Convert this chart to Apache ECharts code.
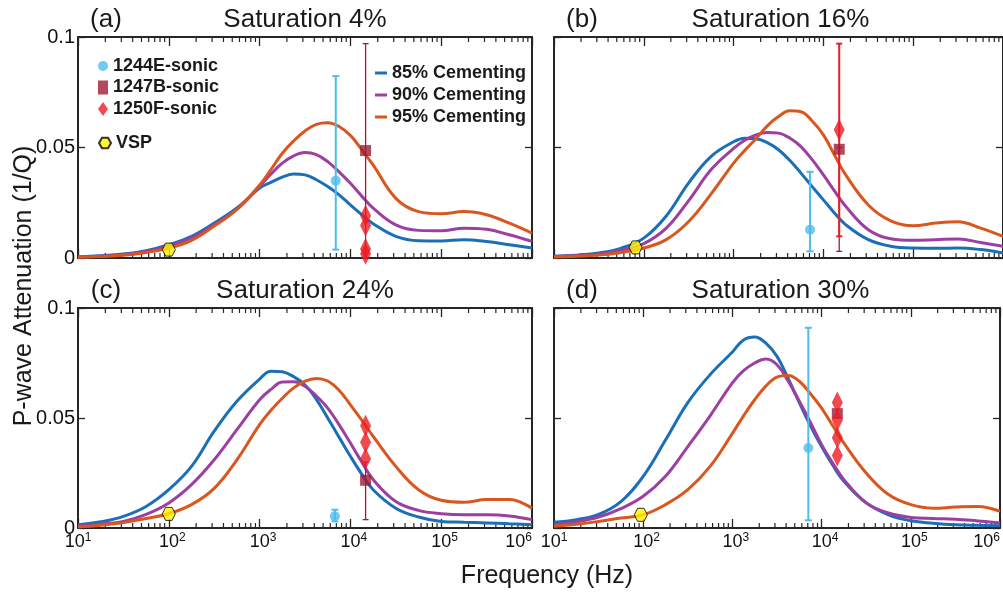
<!DOCTYPE html>
<html><head><meta charset="utf-8">
<script src="https://cdn.jsdelivr.net/npm/echarts@6/dist/echarts.min.js"></script>
<style>html,body{margin:0;padding:0;background:#fff}#c{width:1003px;height:596px}</style>
</head><body><div id="c"></div>
<script>
// ---- data ----
const LOG_F = [1, 1.25, 1.5, 1.75, 2, 2.25, 2.5, 2.75, 3, 3.125, 3.25, 3.375, 3.5, 3.625, 3.75, 3.875, 4, 4.125, 4.25, 4.5, 4.75, 5, 5.25, 5.5, 5.75, 6];
const SERIES_NAMES = ['85% Cementing', '90% Cementing', '95% Cementing'];
const PANEL_LABELS = ['(a)', '(b)', '(c)', '(d)'];
const PANEL_TITLES = ['Saturation 4%', 'Saturation 16%', 'Saturation 24%', 'Saturation 30%'];

const A_85 = [0.0005, 0.001, 0.0018, 0.0033, 0.006, 0.0098, 0.0158, 0.0226, 0.0316, 0.0342, 0.0366, 0.0380, 0.0376, 0.0354, 0.0323, 0.0286, 0.024, 0.0196, 0.0155, 0.0098, 0.0078, 0.0077, 0.0083, 0.0075, 0.006, 0.0045];
const A_90 = [0.0004, 0.0009, 0.0015, 0.003, 0.0055, 0.009, 0.015, 0.022, 0.0323, 0.038, 0.0429, 0.0462, 0.0477, 0.0468, 0.0436, 0.039, 0.0338, 0.028, 0.0226, 0.015, 0.0125, 0.0123, 0.0135, 0.013, 0.0105, 0.0075];
const A_95 = [0.0003, 0.0007, 0.0012, 0.0025, 0.0045, 0.008, 0.0145, 0.022, 0.033, 0.040, 0.0474, 0.053, 0.0575, 0.0605, 0.0612, 0.0595, 0.0555, 0.049, 0.0421, 0.027, 0.021, 0.020, 0.021, 0.0196, 0.0158, 0.0113];

const B_85 = [0.0008, 0.0013, 0.0023, 0.0045, 0.009, 0.019, 0.034, 0.046, 0.0526, 0.0542, 0.054, 0.0522, 0.049, 0.0442, 0.0384, 0.0323, 0.0263, 0.0203, 0.015, 0.0083, 0.0053, 0.0045, 0.0044, 0.0045, 0.0038, 0.0023];
const B_90 = [0.0006, 0.0011, 0.0018, 0.0035, 0.0065, 0.0135, 0.026, 0.040, 0.0496, 0.0533, 0.0557, 0.0568, 0.0565, 0.0543, 0.0504, 0.0445, 0.0376, 0.0303, 0.0233, 0.0128, 0.0087, 0.008, 0.0083, 0.0086, 0.007, 0.0053];
const B_95 = [0.0005, 0.0008, 0.0013, 0.0025, 0.0045, 0.0083, 0.0165, 0.029, 0.0429, 0.0487, 0.054, 0.0598, 0.064, 0.0666, 0.0662, 0.062, 0.0557, 0.0465, 0.0375, 0.024, 0.0168, 0.0146, 0.0158, 0.0164, 0.0135, 0.0098];

const C_85 = [0.0015, 0.0028, 0.0053, 0.0098, 0.0174, 0.028, 0.044, 0.0576, 0.0677, 0.0713, 0.0710, 0.0688, 0.065, 0.0585, 0.050, 0.0413, 0.0326, 0.0245, 0.0174, 0.009, 0.005, 0.003, 0.0026, 0.0023, 0.0019, 0.0015];
const C_90 = [0.001, 0.0018, 0.003, 0.0062, 0.0114, 0.0197, 0.031, 0.0447, 0.0583, 0.063, 0.0664, 0.0665, 0.0644, 0.060, 0.0545, 0.047, 0.0386, 0.030, 0.022, 0.012, 0.008, 0.0065, 0.006, 0.006, 0.0055, 0.0038];
const C_95 = [0.0005, 0.0013, 0.0025, 0.0043, 0.0065, 0.0106, 0.018, 0.031, 0.047, 0.0535, 0.059, 0.0637, 0.0668, 0.068, 0.0668, 0.0626, 0.056, 0.049, 0.0417, 0.028, 0.0174, 0.0126, 0.0117, 0.0129, 0.0129, 0.009];

const D_85 = [0.0026, 0.0038, 0.0062, 0.012, 0.0235, 0.040, 0.057, 0.0697, 0.080, 0.0855, 0.0868, 0.084, 0.078, 0.068, 0.057, 0.0465, 0.037, 0.0285, 0.0212, 0.0114, 0.006, 0.0033, 0.0022, 0.0015, 0.0012, 0.001];
const D_90 = [0.0015, 0.0028, 0.005, 0.0088, 0.0144, 0.0235, 0.037, 0.051, 0.066, 0.0715, 0.075, 0.0768, 0.0742, 0.0668, 0.0576, 0.048, 0.0379, 0.0295, 0.022, 0.0114, 0.0068, 0.0048, 0.0043, 0.004, 0.0032, 0.0023];
const D_95 = [0.0008, 0.0017, 0.003, 0.0045, 0.006, 0.0106, 0.0174, 0.028, 0.043, 0.051, 0.0583, 0.0645, 0.0686, 0.0693, 0.0667, 0.061, 0.0545, 0.0465, 0.0386, 0.025, 0.0152, 0.0106, 0.009, 0.0095, 0.0098, 0.0076];

// field data, one entry per panel (a..d)
const VSP_F = [100, 81, 100, 94];
const VSP_Q = [0.0038, 0.0048, 0.0064, 0.006];
const E1244_F = [6900, 7100, 6750, 7100];
const E1244_Q = [0.035, 0.0128, 0.0053, 0.0364];
const E1244_LO = [0.0038, 0.003, 0.003, 0.0035];
const E1244_HI = [0.0823, 0.039, 0.0083, 0.091];
const B1247_F = [14700, 15000, 14700, 15000];
const B1247_Q = [0.0486, 0.0492, 0.0217, 0.052];
const B1247_LO = [0, 0.003, 0.0038, null];
const B1247_HI = [0.097, 0.05, 0.03, null];
const F1250_F = [14700, 15000, 14700, 15000];
const F1250_A = [0.0191, 0.0147, 0.0041, 0.0019];
const F1250_B = [0.058];
const F1250_C = [0.0465, 0.039, 0.0315];
const F1250_D = [0.057, 0.049, 0.041, 0.033];
const F1250_LO = [null, 0.0098, null, null];
const F1250_HI = [null, 0.097, null, null];

const X_MIN = 10, X_MAX = 1e6;
const DECADES = [10, 100, 1000, 10000, 100000];
const MINOR_MULT = [2, 3, 4, 5, 6, 7, 8, 9];
const Y_MIN = 0, Y_MAX = 0.1, Y_STEP = 0.05;

// ---- layout / style ----
const GRIDS = [
  {left: 78, top: 37, width: 454, height: 221},
  {left: 554, top: 37, width: 453, height: 221},
  {left: 78, top: 308, width: 454, height: 220},
  {left: 554, top: 308, width: 453, height: 220}
];
const FONT = '"Liberation Sans", Arial, Helvetica, sans-serif';
const AXIS_COLOR = '#262626';
const COLORS = ['#1b6fb6', '#9c3fa0', '#d9571f'];
const C_E1244 = '#4dbdec', C_B1247 = '#a01c35', C_F1250 = '#ec1c24', C_VSP = '#fff200';
const HEX = 'path://M0,5 L2.5,0.67 L7.5,0.67 L10,5 L7.5,9.33 L2.5,9.33 Z';

const CURVES = [[A_85, A_90, A_95], [B_85, B_90, B_95], [C_85, C_90, C_95], [D_85, D_90, D_95]];
const F1250_Q = [F1250_A, F1250_B, F1250_C, F1250_D];
const MINOR_TICKS = [];
DECADES.forEach(d => MINOR_MULT.forEach(m => MINOR_TICKS.push(d * m)));

function errRender(color, lw, cap) {
  return function (params, api) {
    const x = api.value(0), lo = api.value(1), hi = api.value(2);
    const p1 = api.coord([x, lo]), p2 = api.coord([x, hi]);
    const st = {stroke: color, lineWidth: lw};
    return {type: 'group', children: [
      {type: 'line', shape: {x1: p1[0], y1: p1[1], x2: p2[0], y2: p2[1]}, style: st},
      {type: 'line', shape: {x1: p1[0] - cap, y1: p1[1], x2: p1[0] + cap, y2: p1[1]}, style: st},
      {type: 'line', shape: {x1: p2[0] - cap, y1: p2[1], x2: p2[0] + cap, y2: p2[1]}, style: st}
    ]};
  };
}
function minorRender(params, api) {
  const x = api.value(0);
  const b = api.coord([x, Y_MIN]), t = api.coord([x, Y_MAX]);
  const st = {stroke: AXIS_COLOR, lineWidth: 1.2};
  return {type: 'group', children: [
    {type: 'line', shape: {x1: b[0], y1: b[1], x2: b[0], y2: b[1] - 5}, style: st},
    {type: 'line', shape: {x1: t[0], y1: t[1], x2: t[0], y2: t[1] + 5}, style: st}
  ]};
}

const xAxes = [], yAxes = [], series = [], graphics = [];
GRIDS.forEach((g, i) => {
  const showX = i >= 2, showY = i % 2 === 0;
  const lineX = {show: true, onZero: false, lineStyle: {color: AXIS_COLOR, width: 2}};
  const tickX = {show: true, inside: true, length: 9, lineStyle: {color: AXIS_COLOR, width: 1.3}};
  xAxes.push({
    gridIndex: i, type: 'log', logBase: 10, min: X_MIN, max: X_MAX, position: 'bottom',
    axisLine: lineX, axisTick: tickX, splitLine: {show: false}, minorTick: {show: false},
    axisLabel: {
      show: showX, margin: 4, color: '#111', fontFamily: FONT, fontSize: 18, lineHeight: 20,
      alignMaxLabel: 'right',
      formatter: v => { const e = Math.round(Math.log10(v)); return (e === 1 || e === 6 ? '' : '{pad|}') + '10{sup|' + e + '}'; },
      rich: {pad: {width: 7}, sup: {fontSize: 12, lineHeight: 12, verticalAlign: 'top', fontFamily: FONT, color: '#111'}}
    }
  });
  xAxes.push({
    gridIndex: i, type: 'log', logBase: 10, min: X_MIN, max: X_MAX, position: 'top',
    axisLine: lineX, axisTick: tickX, splitLine: {show: false}, axisLabel: {show: false}
  });
  const lineY = {show: true, onZero: false, lineStyle: {color: AXIS_COLOR, width: 2}};
  const tickY = {show: true, inside: true, length: 7, lineStyle: {color: AXIS_COLOR, width: 1.3}};
  yAxes.push({
    gridIndex: i, type: 'value', min: Y_MIN, max: Y_MAX, interval: Y_STEP, position: 'left',
    axisLine: lineY, axisTick: tickY, splitLine: {show: false},
    axisLabel: {show: showY, margin: 3, color: '#111', fontFamily: FONT, fontSize: 20, padding: [6, 0, 0, 0],
      formatter: v => (v === 0 ? '0' : String(+v.toFixed(2)))}
  });
  yAxes.push({
    gridIndex: i, type: 'value', min: Y_MIN, max: Y_MAX, interval: Y_STEP, position: 'right',
    axisLine: lineY, axisTick: tickY, splitLine: {show: false}, axisLabel: {show: false}
  });
  const xi = 2 * i, yi = 2 * i;
  series.push({type: 'custom', xAxisIndex: xi, yAxisIndex: yi, silent: true, clip: false, z: 1,
    data: MINOR_TICKS.map(v => [v, 0]), renderItem: minorRender});
  SERIES_NAMES.forEach((nm, k) => {
    series.push({type: 'line', name: nm, xAxisIndex: xi, yAxisIndex: yi, smooth: 0.4, symbol: 'none',
      data: LOG_F.map((L, j) => [Math.pow(10, L), CURVES[i][k][j]]),
      lineStyle: {color: COLORS[k], width: 3}, itemStyle: {color: COLORS[k]}, z: 2});
  });
  series.push({type: 'custom', xAxisIndex: xi, yAxisIndex: yi, silent: true, clip: false, z: 3,
    data: [[E1244_F[i], E1244_LO[i], E1244_HI[i]]], encode: {x: 0, y: [1, 2]},
    renderItem: errRender(C_E1244, 2, 3.5)});
  if (B1247_LO[i] !== null) {
    series.push({type: 'custom', xAxisIndex: xi, yAxisIndex: yi, silent: true, clip: false, z: 3,
      data: [[B1247_F[i], B1247_LO[i], B1247_HI[i]]], encode: {x: 0, y: [1, 2]},
      renderItem: errRender(C_B1247, 1.3, 3)});
  }
  if (F1250_LO[i] !== null) {
    series.push({type: 'custom', xAxisIndex: xi, yAxisIndex: yi, silent: true, clip: false, z: 3,
      data: [[F1250_F[i], F1250_LO[i], F1250_HI[i]]], encode: {x: 0, y: [1, 2]},
      renderItem: errRender(C_F1250, 2, 3)});
  }
  series.push({type: 'scatter', name: '1244E-sonic', xAxisIndex: xi, yAxisIndex: yi, clip: false, z: 4,
    symbol: 'circle', symbolSize: 10, itemStyle: {color: C_E1244}, data: [[E1244_F[i], E1244_Q[i]]]});
  series.push({type: 'scatter', name: '1247B-sonic', xAxisIndex: xi, yAxisIndex: yi, clip: false, z: 4,
    symbol: 'rect', symbolSize: 11, itemStyle: {color: C_B1247}, data: [[B1247_F[i], B1247_Q[i]]]});
  series.push({type: 'scatter', name: '1250F-sonic', xAxisIndex: xi, yAxisIndex: yi, clip: false, z: 4,
    symbol: 'diamond', symbolSize: [11, 22], itemStyle: {color: C_F1250}, data: F1250_Q[i].map(q => [F1250_F[i], q])});
  series.push({type: 'scatter', name: 'VSP', xAxisIndex: xi, yAxisIndex: yi, clip: false, z: 5,
    symbol: HEX, symbolSize: 13, itemStyle: {color: C_VSP, borderColor: '#000', borderWidth: 1}, data: [[VSP_F[i], VSP_Q[i]]]});

  const cx = g.left + g.width / 2;
  const ty = g.top - 17;
  graphics.push({type: 'text', x: cx, y: ty, style: {text: PANEL_TITLES[i], fontSize: 26, fontFamily: FONT, fill: '#1a1a1a', align: 'center', verticalAlign: 'middle'}});
  graphics.push({type: 'text', x: g.left + 28, y: ty, style: {text: PANEL_LABELS[i], fontSize: 26, fontFamily: FONT, fill: '#1a1a1a', align: 'center', verticalAlign: 'middle'}});
});
graphics.push({type: 'text', x: 24, y: 286, rotation: Math.PI / 2, style: {text: 'P-wave Attenuation (1/Q)', fontSize: 25, fontFamily: FONT, fill: '#1a1a1a', align: 'center', verticalAlign: 'middle'}});
graphics.push({type: 'text', x: 547, y: 576, style: {text: 'Frequency (Hz)', fontSize: 25, fontFamily: FONT, fill: '#1a1a1a', align: 'center', verticalAlign: 'middle'}});

const legendText = {fontFamily: FONT, fontSize: 18, fontWeight: 'bold', color: '#1a1a1a', lineHeight: 20};
const option = {
  animation: false,
  backgroundColor: '#fff',
  grid: GRIDS.map(g => Object.assign({containLabel: false}, g)),
  xAxis: xAxes,
  yAxis: yAxes,
  legend: [
    {data: ['1244E-sonic', '1247B-sonic', '1250F-sonic'], orient: 'vertical', left: 93, top: 51, itemWidth: 10, itemHeight: 14, itemGap: 1.5, selectedMode: false, textStyle: legendText},
    {data: ['VSP'], orient: 'vertical', left: 93, top: 128, itemWidth: 12, itemHeight: 12, selectedMode: false, textStyle: legendText},
    {data: SERIES_NAMES, orient: 'vertical', left: 370, top: 58, itemWidth: 12, itemHeight: 3, itemGap: 2, icon: 'rect', selectedMode: false, textStyle: legendText}
  ],
  graphic: graphics,
  series: series
};
const chart = echarts.init(document.getElementById('c'), null, {renderer: 'canvas'});
chart.setOption(option);
</script>
</body></html>
